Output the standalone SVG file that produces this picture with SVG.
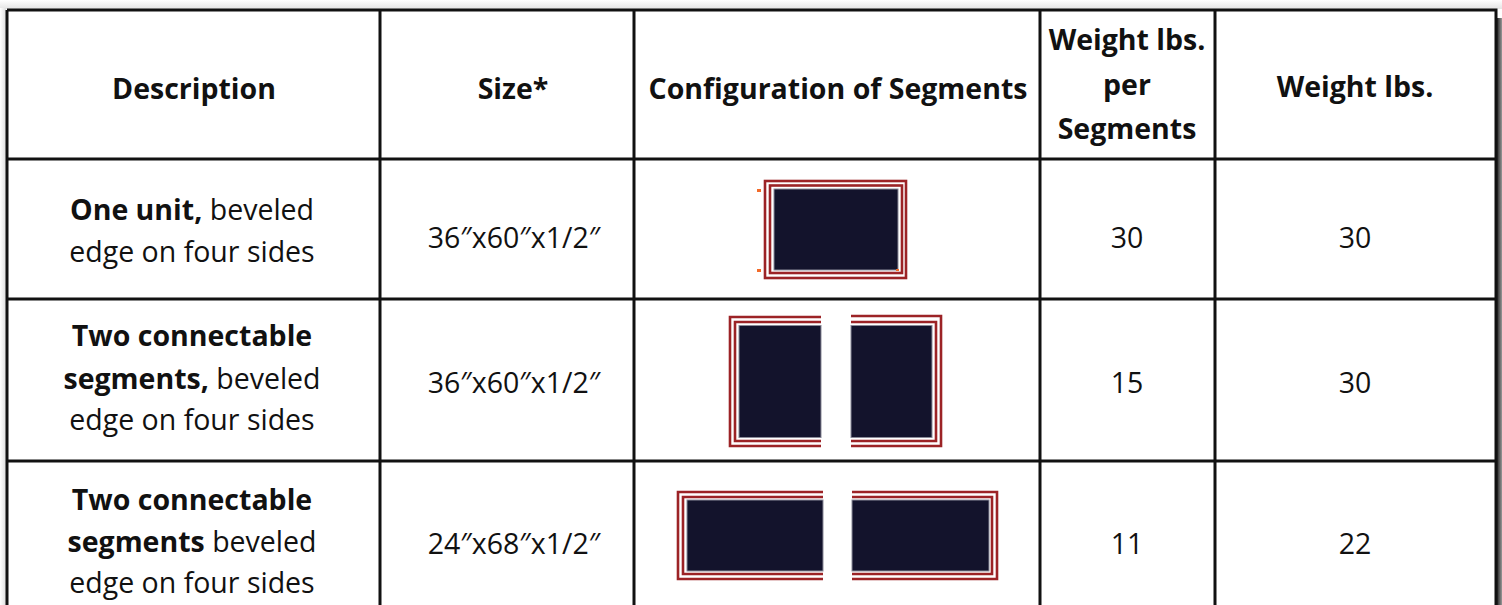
<svg xmlns="http://www.w3.org/2000/svg" width="1502" height="605" viewBox="0 0 1502 605">
<defs>
<linearGradient id="shR" x1="0" y1="0" x2="1" y2="0">
<stop offset="0" stop-color="#222"/>
<stop offset="1" stop-color="#999"/>
</linearGradient>
<linearGradient id="shL" x1="1" y1="0" x2="0" y2="0">
<stop offset="0" stop-color="#ddd"/>
<stop offset="1" stop-color="#fff"/>
</linearGradient>
<linearGradient id="shT" x1="0" y1="1" x2="0" y2="0">
<stop offset="0" stop-color="#e4e4e4"/>
<stop offset="1" stop-color="#fff"/>
</linearGradient>
</defs>
<style>
text{font-family:"Open Sans","Liberation Sans",sans-serif;fill:#111;text-anchor:middle}
.h{font-weight:bold;font-size:28.5px}
.b{font-size:28.5px}
.bb{font-weight:bold}
.grid{stroke:#111;stroke-width:3;fill:none}
.red{fill:none;stroke:#9c2326;stroke-width:2.6}
.navy{fill:#13132c;stroke:#8a8a98;stroke-width:1}
.orng{fill:#f26b2a}
</style>
<rect width="1502" height="605" fill="#fff"/>
<rect x="0" y="0" width="1502" height="9" fill="url(#shT)"/>
<rect x="0" y="8" width="6" height="597" fill="url(#shL)"/>
<rect x="1497" y="18" width="5" height="587" fill="url(#shR)"/>

<g id="table" class="grid">
<path d="M7,10 H1496 V605 M7,10 V605"/>
<path d="M380,10 V605 M634,10 V605 M1040,10 V605 M1215,10 V605"/>
<path d="M7,159 H1496 M7,299 H1496 M7,461 H1496"/>
</g>

<g id="header">
<text class="h" x="194" y="99">Description</text>
<text class="h" x="513" y="99">Size*</text>
<text class="h" x="838" y="99">Configuration of Segments</text>
<text class="h" x="1127" y="50">Weight lbs.</text>
<text class="h" x="1127" y="95">per</text>
<text class="h" x="1127" y="139">Segments</text>
<text class="h" x="1355" y="97">Weight lbs.</text>
</g>

<g id="row1">
<text class="b" x="192" y="220"><tspan class="bb">One unit,</tspan> beveled</text>
<text class="b" x="192" y="262">edge on four sides</text>
<text class="b" x="514" y="248">36″x60″x1/2″</text>
<text class="b" x="1127" y="248">30</text>
<text class="b" x="1355" y="248">30</text>
<g id="mat1">
<rect class="red" x="765" y="181" width="141" height="97"/>
<rect class="red" x="770" y="185.5" width="132" height="87.5"/>
<rect class="navy" x="774" y="189" width="124" height="81"/>
<rect class="orng" x="757" y="189" width="4" height="3"/>
<rect class="orng" x="757" y="269" width="4" height="3"/>
<rect class="orng" x="896" y="269" width="3" height="2"/>
</g>
</g>

<g id="row2">
<text class="b" x="192" y="346"><tspan class="bb">Two connectable</tspan></text>
<text class="b" x="192" y="389"><tspan class="bb">segments,</tspan> beveled</text>
<text class="b" x="192" y="430">edge on four sides</text>
<text class="b" x="514" y="393">36″x60″x1/2″</text>
<text class="b" x="1127" y="393">15</text>
<text class="b" x="1355" y="393">30</text>
<g id="mat2a">
<path class="red" d="M821,317 H730 V446 H821"/>
<path class="red" d="M821,322 H735 V441 H821"/>
<rect class="navy" x="739" y="325.5" width="82" height="112"/>
</g>
<g id="mat2b">
<path class="red" d="M851,316 H941 V446 H851"/>
<path class="red" d="M851,322 H936 V441 H851"/>
<rect class="navy" x="851" y="325.5" width="81" height="112"/>
</g>
</g>

<g id="row3">
<text class="b" x="192" y="510"><tspan class="bb">Two connectable</tspan></text>
<text class="b" x="192" y="552"><tspan class="bb">segments</tspan> beveled</text>
<text class="b" x="192" y="593">edge on four sides</text>
<text class="b" x="514" y="554">24″x68″x1/2″</text>
<text class="b" x="1127" y="554">11</text>
<text class="b" x="1355" y="554">22</text>
<g id="mat3a">
<path class="red" d="M823,492 H678 V579 H823"/>
<path class="red" d="M823,497 H683 V574 H823"/>
<rect class="navy" x="687" y="500" width="136" height="71"/>
</g>
<g id="mat3b">
<path class="red" d="M852,492 H997 V579 H852"/>
<path class="red" d="M852,497 H992 V574 H852"/>
<rect class="navy" x="852" y="500" width="137" height="71"/>
</g>
</g>
</svg>
